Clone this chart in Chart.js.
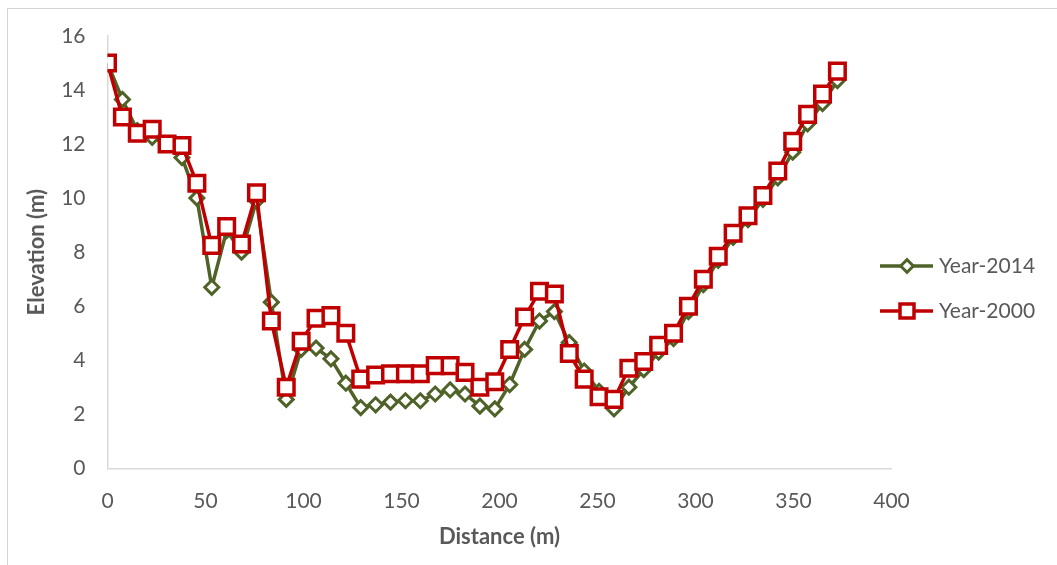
<!DOCTYPE html>
<html>
<head>
<meta charset="utf-8">
<script src="https://cdn.jsdelivr.net/npm/chart.js@4.4.1/dist/chart.umd.min.js"></script>
<style>
  html, body { margin:0; padding:0; background:#fff; }
  #wrap { position:relative; width:1057px; height:565px; overflow:hidden; }
  #frame { position:absolute; left:7px; top:8px; width:1200px; height:700px;
           border-left:1px solid #d4d4d4; border-top:1px solid #d4d4d4; }
  #chart { position:absolute; left:0; top:0; }
</style>
</head>
<body>
<div id="wrap">
  <div id="frame"></div>
  <canvas id="chart" width="1057" height="565"></canvas>
</div>
<script>
const distance = [0, 7.6, 15.2, 22.8, 30.4, 38, 45.6, 53.2, 60.8, 68.4,
  76, 83.6, 91.2, 98.8, 106.4, 114, 121.6, 129.2, 136.8, 144.4,
  152, 159.6, 167.2, 174.8, 182.4, 190, 197.6, 205.2, 212.8, 220.4,
  228, 235.6, 243.2, 250.8, 258.4, 266, 273.6, 281.2, 288.8, 296.4,
  304, 311.6, 319.2, 326.8, 334.4, 342, 349.6, 357.2, 364.8, 372.4];

const year2014 = [15.0, 13.65, 12.5, 12.25, 12.0, 11.5, 10.0, 6.7, 8.8, 8.0,
  9.9, 6.15, 2.55, 4.4, 4.45, 4.05, 3.15, 2.25, 2.35, 2.45,
  2.5, 2.5, 2.75, 2.9, 2.75, 2.3, 2.2, 3.1, 4.4, 5.45,
  5.8, 4.65, 3.6, 2.85, 2.2, 3.0, 3.65, 4.3, 4.8, 5.8,
  6.8, 7.7, 8.55, 9.2, 9.95, 10.75, 11.7, 12.75, 13.5, 14.35];

const year2000 = [15.0, 13.0, 12.4, 12.55, 12.0, 11.95, 10.55, 8.25, 8.95, 8.3,
  10.2, 5.45, 3.0, 4.7, 5.55, 5.65, 5.0, 3.3, 3.45, 3.5,
  3.5, 3.5, 3.8, 3.8, 3.55, 3.0, 3.2, 4.4, 5.6, 6.55,
  6.45, 4.25, 3.3, 2.65, 2.55, 3.7, 3.95, 4.55, 5.0, 6.0,
  7.0, 7.85, 8.7, 9.35, 10.1, 11.0, 12.1, 13.1, 13.85, 14.7];

const seriesNames = ["Year-2014", "Year-2000"];
const xTicks = [0, 50, 100, 150, 200, 250, 300, 350, 400];
const yTicks = [0, 2, 4, 6, 8, 10, 12, 14, 16];

const GREEN = "#4f6228";
const RED = "#c00000";
const TEXT = "#595959";
const AXIS = "#d9d9d9";
const FONT = "Lato, 'Open Sans', sans-serif";

const toPoints = ys => ys.map((y, i) => ({ x: distance[i], y }));

// legend drawn by hand: line with marker, like the spreadsheet one
const sideLegend = {
  id: "sideLegend",
  afterDraw(chart) {
    const ctx = chart.ctx;
    const rows = [
      { ds: chart.data.datasets[0], y: 266 },
      { ds: chart.data.datasets[1], y: 311 }
    ];
    rows.forEach(({ ds, y }) => {
      ctx.save();
      ctx.strokeStyle = ds.borderColor;
      ctx.lineWidth = 3.5;
      ctx.beginPath();
      ctx.moveTo(880, y);
      ctx.lineTo(933, y);
      ctx.stroke();
      ctx.fillStyle = "#fff";
      ctx.lineWidth = ds.pointBorderWidth;
      Chart.helpers.drawPoint(ctx, {
        pointStyle: ds.pointStyle,
        radius: ds.pointRadius * 0.9,
        rotation: 0,
        borderWidth: ds.pointBorderWidth
      }, 907, y);
      ctx.fillStyle = TEXT;
      ctx.font = "21px " + FONT;
      ctx.textAlign = "left";
      ctx.textBaseline = "middle";
      ctx.fillText(ds.label, 939, y);
      ctx.restore();
    });
  }
};

new Chart(document.getElementById("chart"), {
  type: "line",
  data: {
    datasets: [
      {
        label: seriesNames[0],
        data: toPoints(year2014),
        borderColor: GREEN,
        borderWidth: 3.5,
        pointStyle: "rectRot",
        pointRadius: 7,
        pointBorderWidth: 3,
        pointBackgroundColor: "#fff",
        pointBorderColor: GREEN,
        tension: 0,
        order: 1
      },
      {
        label: seriesNames[1],
        data: toPoints(year2000),
        borderColor: RED,
        borderWidth: 3.5,
        pointStyle: "rect",
        pointRadius: 11,
        pointBorderWidth: 3.5,
        pointBackgroundColor: "#fff",
        pointBorderColor: RED,
        tension: 0,
        order: 0
      }
    ]
  },
  options: {
    responsive: false,
    animation: false,
    layout: { padding: { left: 0, top: 36, right: 165.5, bottom: 0 } },
    plugins: {
      legend: { display: false },
      tooltip: { enabled: false }
    },
    scales: {
      x: {
        type: "linear",
        min: 0, max: 400,
        afterBuildTicks: s => { s.ticks = xTicks.map(v => ({ value: v })); },
        afterFit: s => { s.height = 96.7; },
        grid: { display: false, drawTicks: false },
        border: { display: true, color: AXIS, width: 1.5 },
        ticks: { color: TEXT, font: { family: FONT, size: 21 }, padding: 20, maxRotation: 0 },
        title: { display: true, text: "Distance (m)", color: TEXT,
                 font: { family: FONT, size: 22, weight: "bold" }, padding: { top: 0, bottom: 15 } }
      },
      y: {
        min: 0, max: 16,
        afterBuildTicks: s => { s.ticks = yTicks.map(v => ({ value: v })); },
        afterFit: s => { s.width = 107.5; },
        grid: { display: false, drawTicks: false },
        border: { display: true, color: AXIS, width: 1.5 },
        ticks: { color: TEXT, font: { family: FONT, size: 21 }, padding: 22 },
        title: { display: true, text: "Elevation (m)", color: TEXT,
                 font: { family: FONT, size: 22, weight: "bold" }, padding: { top: 24, bottom: 0 } }
      }
    }
  },
  plugins: [sideLegend]
});
</script>
</body>
</html>
